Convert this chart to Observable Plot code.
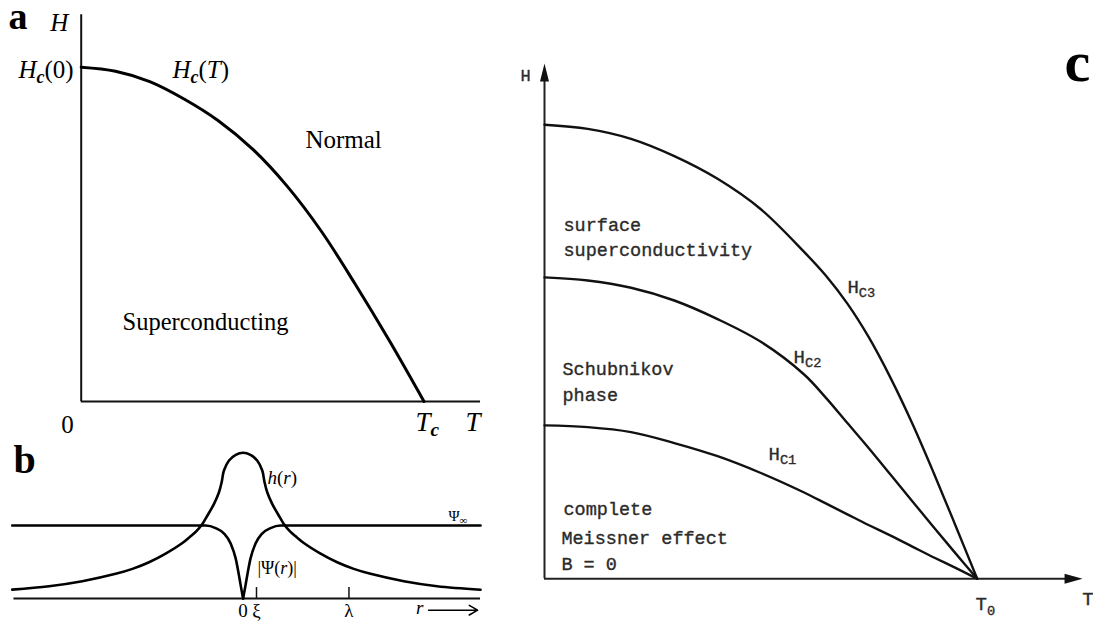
<!DOCTYPE html>
<html>
<head>
<meta charset="utf-8">
<script src="https://cdn.jsdelivr.net/npm/d3@7"></script>
<script src="https://cdn.jsdelivr.net/npm/@observablehq/plot@0.6"></script>
<style>
  html, body { margin: 0; padding: 0; background: #fff; }
  #wrap { position: relative; width: 1093px; height: 622px; overflow: hidden; background: #fff; }
  #wrap svg { position: absolute; max-width: none !important; }
</style>
</head>
<body>
<div id="wrap"></div>
<script>
// ---------- Panel a: critical field Hc(T) (T in units of Tc, H in units of Hc(0)) ----------
const aT = [0, 0.1, 0.2, 0.3, 0.4, 0.5, 0.6, 0.7, 0.8, 0.9, 1.0];
const aH = [1, 0.988, 0.957, 0.905, 0.84, 0.755, 0.645, 0.51, 0.35, 0.18, 0];

// ---------- Panel b: vortex core profile (r in units of xi) ----------
const hR = [-17.23, -14.48, -12.0, -9.51, -8.26, -7.02, -5.78, -4.53, -4.0, -3.5, -3.04, -2.66, -2.17, -1.8, -1.6, -1.43, -1.05, -0.55, 0,
            0.55, 1.05, 1.43, 1.6, 1.8, 2.17, 2.66, 3.04, 3.5, 4.0, 4.53, 5.78, 7.02, 8.26, 9.51, 12.0, 14.48, 17.72];
const hV = [0.122, 0.168, 0.237, 0.338, 0.406, 0.497, 0.615, 0.76, 0.84, 0.92, 1.02, 1.137, 1.297, 1.456, 1.593, 1.753, 1.89, 1.968, 1.996,
            1.968, 1.89, 1.753, 1.593, 1.456, 1.297, 1.137, 1.02, 0.92, 0.84, 0.76, 0.615, 0.497, 0.406, 0.338, 0.237, 0.168, 0.12];
const psiRL = [-17.23, -2.79, -2.05, -1.42, -0.92, -0.55, -0.35, -0.18, 0];
const psiVL = [1, 1, 0.965, 0.89, 0.75, 0.546, 0.36, 0.18, 0];
const psiRR = [0, 0.18, 0.35, 0.55, 0.92, 1.42, 2.05, 2.79, 17.72];
const psiVR = [0, 0.18, 0.36, 0.546, 0.75, 0.89, 0.965, 1, 1];
const bTickR = [1, 7.9];
const bTickLabels = ["0", "ξ", "λ"];
const bTickLabelR = [0, 1, 7.9];

// ---------- Panel c: type-II phase diagram (T in units of T0, H in units of Hc3(0)) ----------
const cT   = [0, 0.1, 0.2, 0.3, 0.4, 0.5, 0.6, 0.65, 0.7, 0.75, 0.8, 0.85, 0.9, 0.95, 1];
const cHc3 = [1, 0.991, 0.969, 0.931, 0.881, 0.814, 0.72, 0.668, 0.606, 0.531, 0.442, 0.342, 0.232, 0.117, 0];
const cHc2 = [0.664, 0.657, 0.641, 0.613, 0.572, 0.522, 0.45, 0.399, 0.343, 0.287, 0.229, 0.171, 0.113, 0.056, 0];
const cHc1 = [0.338, 0.334, 0.323, 0.299, 0.27, 0.233, 0.19, 0.166, 0.142, 0.118, 0.095, 0.071, 0.047, 0.024, 0];
const cSeriesNames = ["Hc3", "Hc2", "Hc1"];

// ---------- helpers ----------
const SERIF = "'Liberation Serif', 'Times New Roman', serif";
const MONO = "'Liberation Mono', 'Courier New', monospace";

function lbl(text, x, y, o = {}) {
  return Plot.text([text], {x, y, text: d => d, lineAnchor: "bottom", textAnchor: "start", fill: "#000", ...o});
}

// tiny markup: <i>, <b>, <sub>
function richText(svg) {
  d3.select(svg).selectAll("text").each(function () {
    const s = this.textContent;
    if (!s.includes("<")) return;
    this.textContent = "";
    const parts = s.split(/(<\/?(?:i|b|sub)>)/);
    let it = false, bd = false, sub = false, prevSub = false;
    for (const p of parts) {
      if (!p) continue;
      if (p === "<i>") { it = true; continue; }
      if (p === "</i>") { it = false; continue; }
      if (p === "<b>") { bd = true; continue; }
      if (p === "</b>") { bd = false; continue; }
      if (p === "<sub>") { sub = true; continue; }
      if (p === "</sub>") { sub = false; continue; }
      const ts = document.createElementNS("http://www.w3.org/2000/svg", "tspan");
      ts.textContent = p;
      if (it) ts.setAttribute("font-style", "italic");
      if (bd) ts.setAttribute("font-weight", "bold");
      if (sub) ts.setAttribute("font-size", "72%");
      if (sub !== prevSub) ts.setAttribute("dy", sub ? "0.3em" : "-0.216em");
      prevSub = sub;
      this.appendChild(ts);
    }
  });
  return svg;
}

function place(svg, left, top) {
  svg.style.left = left + "px";
  svg.style.top = top + "px";
  svg.style.overflow = "visible";
  svg.style.background = "transparent";
  document.getElementById("wrap").appendChild(richText(svg));
}

// ---------- Panel a ----------
const aData = aT.map((t, i) => ({T: t, H: aH[i]}));
const plotA = Plot.plot({
  width: 490, height: 440,
  x: {domain: [0, 1], range: [80.7, 423.5], axis: null},
  y: {domain: [0, 1], range: [401, 66.7], axis: null},
  marks: [
    Plot.ruleX([0], {y1: 0, y2: 1.157, stroke: "#111", strokeWidth: 2}),
    Plot.ruleY([0], {x1: 0, x2: 1.165, stroke: "#111", strokeWidth: 2}),
    Plot.line(aData, {x: "T", y: "H", curve: "catmull-rom", stroke: "#000", strokeWidth: 3}),
    lbl("a", -0.212, 1.113, {fontFamily: SERIF, fontWeight: "bold", fontSize: 38}),
    lbl("<i>H</i>", -0.09, 1.107, {fontFamily: SERIF, fontSize: 25}),
    lbl("<i>H</i><sub><b><i>c</i></b></sub>(0)", -0.022, 0.969, {fontFamily: SERIF, fontSize: 25, textAnchor: "end"}),
    lbl("<i>H</i><sub><b><i>c</i></b></sub>(<i>T</i>)", 0.266, 0.969, {fontFamily: SERIF, fontSize: 25}),
    lbl("Normal", 0.654, 0.757, {fontFamily: SERIF, fontSize: 25}),
    lbl("Superconducting", 0.1207, 0.2124, {fontFamily: SERIF, fontSize: 24.5}),
    lbl("0", -0.04, -0.093, {fontFamily: SERIF, fontSize: 25, textAnchor: "middle"}),
    lbl("<i>T</i><sub><b><i>c</i></b></sub>", 0.975, -0.087, {fontFamily: SERIF, fontSize: 27}),
    lbl("<i>T</i>", 1.121, -0.087, {fontFamily: SERIF, fontSize: 27})
  ]
});
place(plotA, 0, 0);

// ---------- Panel b ----------
const hData = hR.map((r, i) => ({r, v: hV[i]}));
const psiData = [
  ...psiRL.map((r, i) => ({r, v: psiVL[i], side: "L"})),
  ...psiRR.map((r, i) => ({r, v: psiVR[i], side: "R"}))
];
const plotB = Plot.plot({
  width: 490, height: 202,
  x: {domain: [0, 1], range: [242.6, 256], axis: null},
  y: {domain: [0, 1], range: [178, 105], axis: null},
  marks: [
    Plot.ruleY([0], {x1: -17.1, x2: 17.72, stroke: "#111", strokeWidth: 2}),
    Plot.ruleX(bTickR, {x: d => d, y1: 0, y2: 0.15, stroke: "#111", strokeWidth: 1.5}),
    Plot.line(psiData, {x: "r", y: "v", z: "side", curve: "monotone-x", stroke: "#000", strokeWidth: 2.6}),
    Plot.line(hData, {x: "r", y: "v", curve: "catmull-rom", stroke: "#000", strokeWidth: 2.6}),
    Plot.text(bTickLabels, {x: (d, i) => bTickLabelR[i], y: -0.25, text: d => d, lineAnchor: "bottom", textAnchor: "middle",
      fontFamily: SERIF, fontSize: 19, fill: "#000"}),
    lbl("b", -17.13, 1.726, {fontFamily: SERIF, fontWeight: "bold", fontSize: 40}),
    lbl("<i>h</i>(<i>r</i>)", 1.82, 1.575, {fontFamily: SERIF, fontSize: 19}),
    lbl("Ψ<sub>∞</sub>", 15.33, 1.068, {fontFamily: SERIF, fontSize: 15}),
    lbl("|Ψ(<i>r</i>)|", 1.07, 0.342, {fontFamily: SERIF, fontSize: 18}),
    lbl("<i>r</i>", 12.9, -0.219, {fontFamily: SERIF, fontSize: 19}),
    Plot.arrow([0], {x1: 13.84, y1: -0.16, x2: 17.5, y2: -0.16, headLength: 9, strokeWidth: 1.6, stroke: "#000"})
  ]
});
place(plotB, 0, 420);

// ---------- Panel c ----------
const cData = [
  ...cT.map((t, i) => ({T: t, H: cHc3[i], s: cSeriesNames[0]})),
  ...cT.map((t, i) => ({T: t, H: cHc2[i], s: cSeriesNames[1]})),
  ...cT.map((t, i) => ({T: t, H: cHc1[i], s: cSeriesNames[2]}))
];
const cText = {fontFamily: MONO, fontSize: 18.5, fill: "#2b2b2b", stroke: "#2b2b2b", strokeWidth: 0.35};
const plotC = Plot.plot({
  width: 573, height: 582,
  x: {domain: [0, 1], range: [24, 456.7], axis: null},
  y: {domain: [0, 1], range: [538.3, 84.3], axis: null},
  marks: [
    Plot.ruleX([0], {y1: 0, y2: 1.1, stroke: "#222", strokeWidth: 2}),
    Plot.ruleY([0], {x1: 0, x2: 1.21, stroke: "#222", strokeWidth: 2}),
    Plot.vector([0], {x: 0, y: 1.135, length: 18, rotate: 0, shape: "spike", r: 4.5, anchor: "end", fill: "#111", stroke: "none"}),
    Plot.vector([0], {x: 1.2435, y: 0, length: 18, rotate: 90, shape: "spike", r: 5, anchor: "end", fill: "#111", stroke: "none"}),
    Plot.line(cData, {x: "T", y: "H", z: "s", curve: "catmull-rom", stroke: "#111", strokeWidth: 2.4}),
    lbl("c", 1.2018, 1.097, {fontFamily: SERIF, fontWeight: "bold", fontSize: 58}),
    lbl("H", -0.0439, 1.0975, {...cText, textAnchor: "middle", fontSize: 17}),
    lbl("surface", 0.0439, 0.767, cText),
    lbl("superconductivity", 0.0439, 0.712, cText),
    lbl("Schubnikov", 0.0416, 0.45, cText),
    lbl("phase", 0.0416, 0.3906, cText),
    lbl("complete", 0.0439, 0.1416, cText),
    lbl("Meissner effect", 0.039, 0.0756, cText),
    lbl("B = 0", 0.039, 0.0183, cText),
    lbl("H<sub>C3</sub>", 0.700, 0.6306, {...cText, fontSize: 19}),
    lbl("H<sub>C2</sub>", 0.5755, 0.4764, {...cText, fontSize: 19}),
    lbl("H<sub>C1</sub>", 0.5177, 0.262, {...cText, fontSize: 19}),
    lbl("T<sub>0</sub>", 0.996, -0.0698, {...cText, fontSize: 19}),
    lbl("T", 1.243, -0.0588, {...cText, fontSize: 19})
  ]
});
place(plotC, 520, 40);
</script>
</body>
</html>
